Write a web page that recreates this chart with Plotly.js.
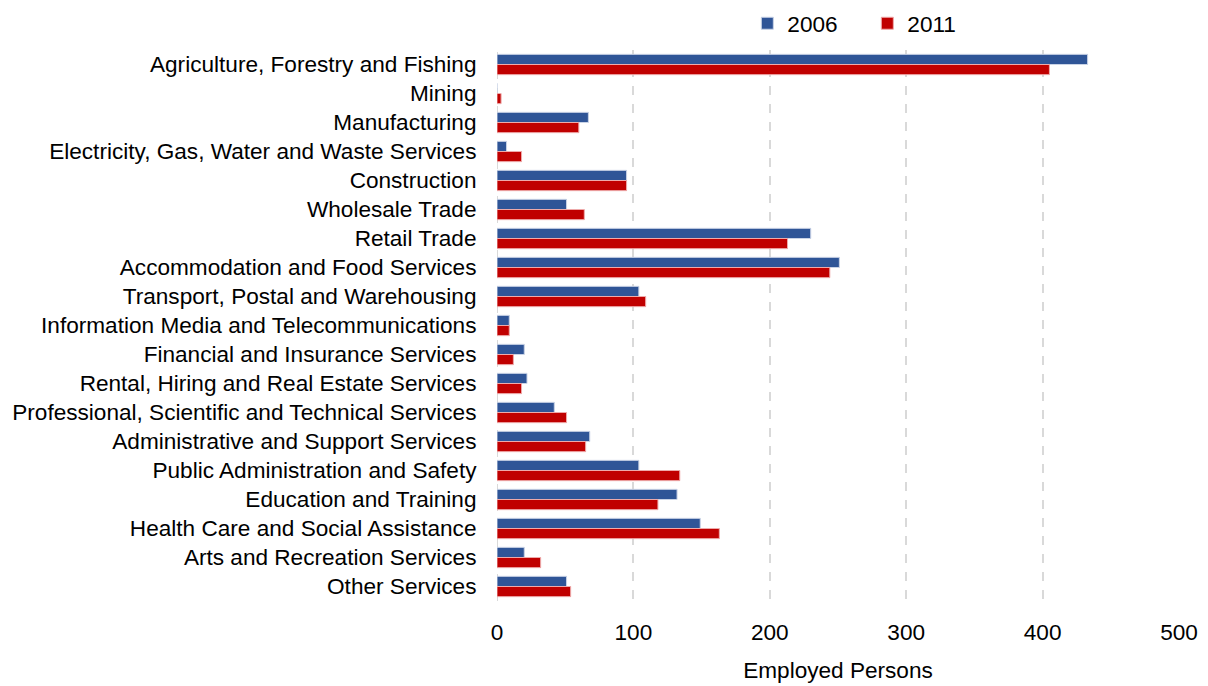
<!DOCTYPE html>
<html>
<head>
<meta charset="utf-8">
<script src="https://cdn.plot.ly/plotly-3.0.1.min.js"></script>
<style>html,body{margin:0;padding:0;background:#fff;}#chart{width:1208px;height:686px;}</style>
</head>
<body>
<div id="chart"></div>
<script>
const categories = [
  "Agriculture, Forestry and Fishing",
  "Mining",
  "Manufacturing",
  "Electricity, Gas, Water and Waste Services",
  "Construction",
  "Wholesale Trade",
  "Retail Trade",
  "Accommodation and Food Services",
  "Transport, Postal and Warehousing",
  "Information Media and Telecommunications",
  "Financial and Insurance Services",
  "Rental, Hiring and Real Estate Services",
  "Professional, Scientific and Technical Services",
  "Administrative and Support Services",
  "Public Administration and Safety",
  "Education and Training",
  "Health Care and Social Assistance",
  "Arts and Recreation Services",
  "Other Services"
];
const values2006 = [433, 0, 67, 7, 95, 51, 230, 251, 104, 9, 20, 22, 42, 68, 104, 132, 149, 20, 51];
const values2011 = [405, 3, 60, 18, 95, 64, 213, 244, 109, 9, 12, 18, 51, 65, 134, 118, 163, 32, 54];
const xTicks = [0, 100, 200, 300, 400, 500];

const font = "Liberation Sans, Arial, sans-serif";
const fs = 22.6;

const traces = [
  {type: "bar", orientation: "h", name: "2006", y: categories, x: values2006,
   marker: {color: "#2f5597", line: {color: "#c9d3e6", width: 1}}, hoverinfo: "x+y"},
  {type: "bar", orientation: "h", name: "2011", y: categories, x: values2011,
   marker: {color: "#c00000", line: {color: "#eeaaaa", width: 1}}, hoverinfo: "x+y"}
];

const layout = {
  width: 1208, height: 686,
  margin: {l: 497, r: 29, t: 50, b: 85, autoexpand: false},
  paper_bgcolor: "#fff", plot_bgcolor: "#fff",
  font: {family: font, size: fs, color: "#000"},
  barmode: "group",
  bargap: 0.3,
  bargroupgap: 0,
  showlegend: true,
  legend: {orientation: "h", x: 0.543, xanchor: "center", yref: "container", y: 0.997, yanchor: "top",
           font: {family: font, size: fs, color: "#000"}, traceorder: "normal",
           itemwidth: 30, entrywidth: 75, bgcolor: "rgba(0,0,0,0)"},
  xaxis: {
    range: [0, 500], tickvals: xTicks, ticktext: xTicks.map(String),
    showgrid: true, gridcolor: "#d9d9d9", gridwidth: 2, griddash: "dash",
    zeroline: false, showline: false,
    ticks: "outside", ticklen: 11, tickcolor: "rgba(0,0,0,0)",
    tickfont: {family: font, size: fs, color: "#000"},
    title: {text: "\u00a0\u00a0\u00a0\u00a0Employed Persons", font: {family: font, size: fs, color: "#000"}, standoff: 18},
    fixedrange: true
  },
  yaxis: {
    type: "category", autorange: "reversed",
    showgrid: false, zeroline: false, showline: false,
    ticks: "outside", ticklen: 15, tickcolor: "rgba(0,0,0,0)",
    tickfont: {family: font, size: fs, color: "#000"},
    fixedrange: true
  },
  shapes: [{type: "line", xref: "x", yref: "paper", x0: 0, x1: 0, y0: 0, y1: 1,
            line: {color: "#d9d9d9", width: 2, dash: "dash"}, layer: "below"}]
};

Plotly.newPlot("chart", traces, layout, {displayModeBar: false, staticPlot: true});
</script>
</body>
</html>
